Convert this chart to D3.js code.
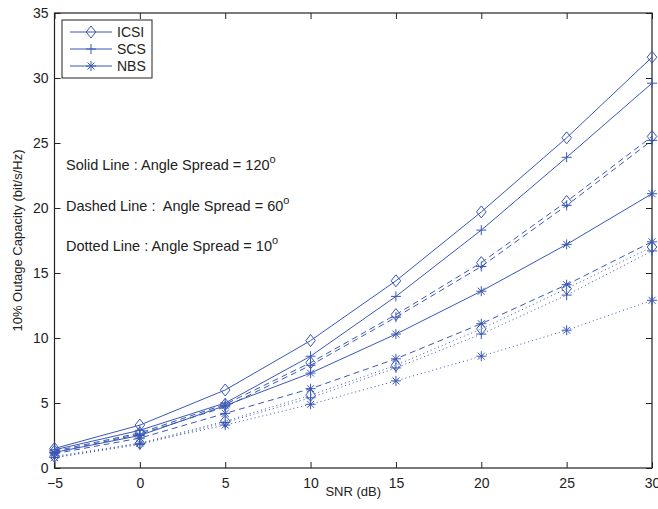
<!DOCTYPE html>
<html><head><meta charset="utf-8">
<script src="https://cdn.jsdelivr.net/npm/d3@7"></script>
<style>body{margin:0;background:#fff;} svg{display:block;font-family:"Liberation Sans",Arial,sans-serif;}</style>
</head><body>
<svg id="c" width="658" height="509"></svg>
<script>
const snr = [-5, 0, 5, 10, 15, 20, 25, 30];
const xTicks = [-5, 0, 5, 10, 15, 20, 25, 30];
const yTicks = [0, 5, 10, 15, 20, 25, 30, 35];
// Solid: angle spread 120
const icsi120 = [1.5, 3.3, 6.0, 9.8, 14.4, 19.7, 25.4, 31.6];
const scs120  = [1.4, 2.9, 5.0, 8.6, 13.2, 18.3, 23.9, 29.6];
const nbs120  = [1.2, 2.5, 4.8, 7.3, 10.3, 13.6, 17.2, 21.1];
// Dashed: angle spread 60
const icsi60 = [1.3, 2.7, 4.9, 8.1, 11.8, 15.8, 20.5, 25.5];
const scs60  = [1.2, 2.6, 4.7, 7.9, 11.6, 15.5, 20.2, 25.2];
const nbs60  = [1.1, 2.3, 4.2, 6.1, 8.4, 11.1, 14.1, 17.4];
// Dotted: angle spread 10
const icsi10 = [0.9, 1.9, 3.6, 5.6, 7.9, 10.7, 13.8, 17.0];
const scs10  = [0.8, 1.8, 3.5, 5.4, 7.7, 10.3, 13.3, 16.7];
const nbs10  = [0.8, 1.9, 3.3, 4.9, 6.7, 8.6, 10.6, 12.9];
const legendNames = ["ICSI", "SCS", "NBS"];

const series = [
  {v: icsi120, m: "diamond", d: null}, {v: scs120, m: "plus", d: null}, {v: nbs120, m: "star", d: null},
  {v: icsi60, m: "diamond", d: "6,4"}, {v: scs60, m: "plus", d: "6,4"}, {v: nbs60, m: "star", d: "6,4"},
  {v: icsi10, m: "diamond", d: "1,3"}, {v: scs10, m: "plus", d: "1,3"}, {v: nbs10, m: "star", d: "1,3"}
];

const col = "#3a57b5";
const L = 54.5, R = 652, T = 13, B = 468;
const x = d3.scaleLinear().domain([-5, 30]).range([L, R]);
const y = d3.scaleLinear().domain([0, 35]).range([B, T]);
const svg = d3.select("#c");

// axes with inward ticks
const tl = 6;
svg.append("g").attr("transform", `translate(0,${B})`)
  .call(d3.axisBottom(x).tickValues(xTicks).tickFormat(d => d < 0 ? "\u2212" + Math.abs(d) : d).tickSizeInner(-tl).tickSizeOuter(0).tickPadding(10))
  .call(g => g.select(".domain").remove());
svg.append("g").attr("transform", `translate(${L},0)`)
  .call(d3.axisLeft(y).tickValues(yTicks).tickSizeInner(-tl).tickSizeOuter(0).tickPadding(6))
  .call(g => g.select(".domain").remove());
svg.append("g").attr("transform", `translate(0,${T})`)
  .call(d3.axisTop(x).tickValues(xTicks).tickFormat("").tickSizeInner(-tl).tickSizeOuter(0))
  .call(g => g.select(".domain").remove());
svg.append("g").attr("transform", `translate(${R},0)`)
  .call(d3.axisRight(y).tickValues(yTicks).tickFormat("").tickSizeInner(-tl).tickSizeOuter(0))
  .call(g => g.select(".domain").remove());
svg.selectAll(".tick line").attr("stroke", "#222").attr("stroke-width", 1);
svg.selectAll(".tick text").attr("font-size", 14).attr("fill", "#222").attr("font-family", "Liberation Sans, Arial, sans-serif");
svg.append("rect").attr("x", L).attr("y", T).attr("width", R - L).attr("height", B - T)
  .attr("fill", "none").attr("stroke", "#222").attr("stroke-width", 1.2);

const line = d3.line().x((d, i) => x(snr[i])).y(d => y(d));

function marker(g, m, cx, cy) {
  if (m === "diamond") {
    const s = 6;
    g.append("path").attr("d", `M${cx},${cy - s}L${cx + s * 0.8},${cy}L${cx},${cy + s}L${cx - s * 0.8},${cy}Z`)
      .attr("fill", "none").attr("stroke", col).attr("stroke-width", 1);
  } else if (m === "plus") {
    const s = 5;
    g.append("path").attr("d", `M${cx - s},${cy}H${cx + s}M${cx},${cy - s}V${cy + s}`)
      .attr("fill", "none").attr("stroke", col).attr("stroke-width", 1);
  } else {
    const s = 5, k = s * 0.7;
    g.append("path").attr("d", `M${cx - s},${cy}H${cx + s}M${cx},${cy - s}V${cy + s}M${cx - k},${cy - k}L${cx + k},${cy + k}M${cx - k},${cy + k}L${cx + k},${cy - k}`)
      .attr("fill", "none").attr("stroke", col).attr("stroke-width", 1);
  }
}

series.forEach(s => {
  svg.append("path").datum(s.v).attr("d", line).attr("fill", "none").attr("stroke", col)
    .attr("stroke-width", 1).attr("stroke-dasharray", s.d);
  const g = svg.append("g");
  s.v.forEach((v, i) => marker(g, s.m, x(snr[i]), y(v)));
});

// legend
svg.append("rect").attr("x", 62).attr("y", 20).attr("width", 90).attr("height", 58)
  .attr("fill", "#fff").attr("stroke", "#222").attr("stroke-width", 1);
legendNames.forEach((n, i) => {
  const ly = 32 + i * 17;
  svg.append("line").attr("x1", 70).attr("x2", 112).attr("y1", ly).attr("y2", ly).attr("stroke", col).attr("stroke-width", 1);
  marker(svg, ["diamond", "plus", "star"][i], 91, ly);
  svg.append("text").attr("x", 117).attr("y", ly + 5).attr("font-size", 14).attr("fill", "#222").text(n);
});

// annotations
const notes = [["Solid Line : Angle Spread = 120", 170], ["Dashed Line :  Angle Spread = 60", 211], ["Dotted Line : Angle Spread = 10", 251]];
notes.forEach(([t, ty]) => {
  const tx = svg.append("text").attr("x", 66).attr("y", ty).attr("font-size", 14.5).attr("fill", "#222")
    .style("white-space", "pre");
  tx.append("tspan").text(t);
  tx.append("tspan").attr("dy", -7).attr("font-size", 11).text("o");
});

// axis labels
svg.append("text").attr("x", (L + R) / 2).attr("y", 496).attr("text-anchor", "middle").attr("font-size", 13).attr("fill", "#222").text("SNR (dB)");
svg.append("text").attr("transform", `translate(22,${(T + B) / 2}) rotate(-90)`).attr("text-anchor", "middle").attr("font-size", 13).attr("fill", "#222").text("10% Outage Capacity (bit/s/Hz)");
</script>
</body></html>
